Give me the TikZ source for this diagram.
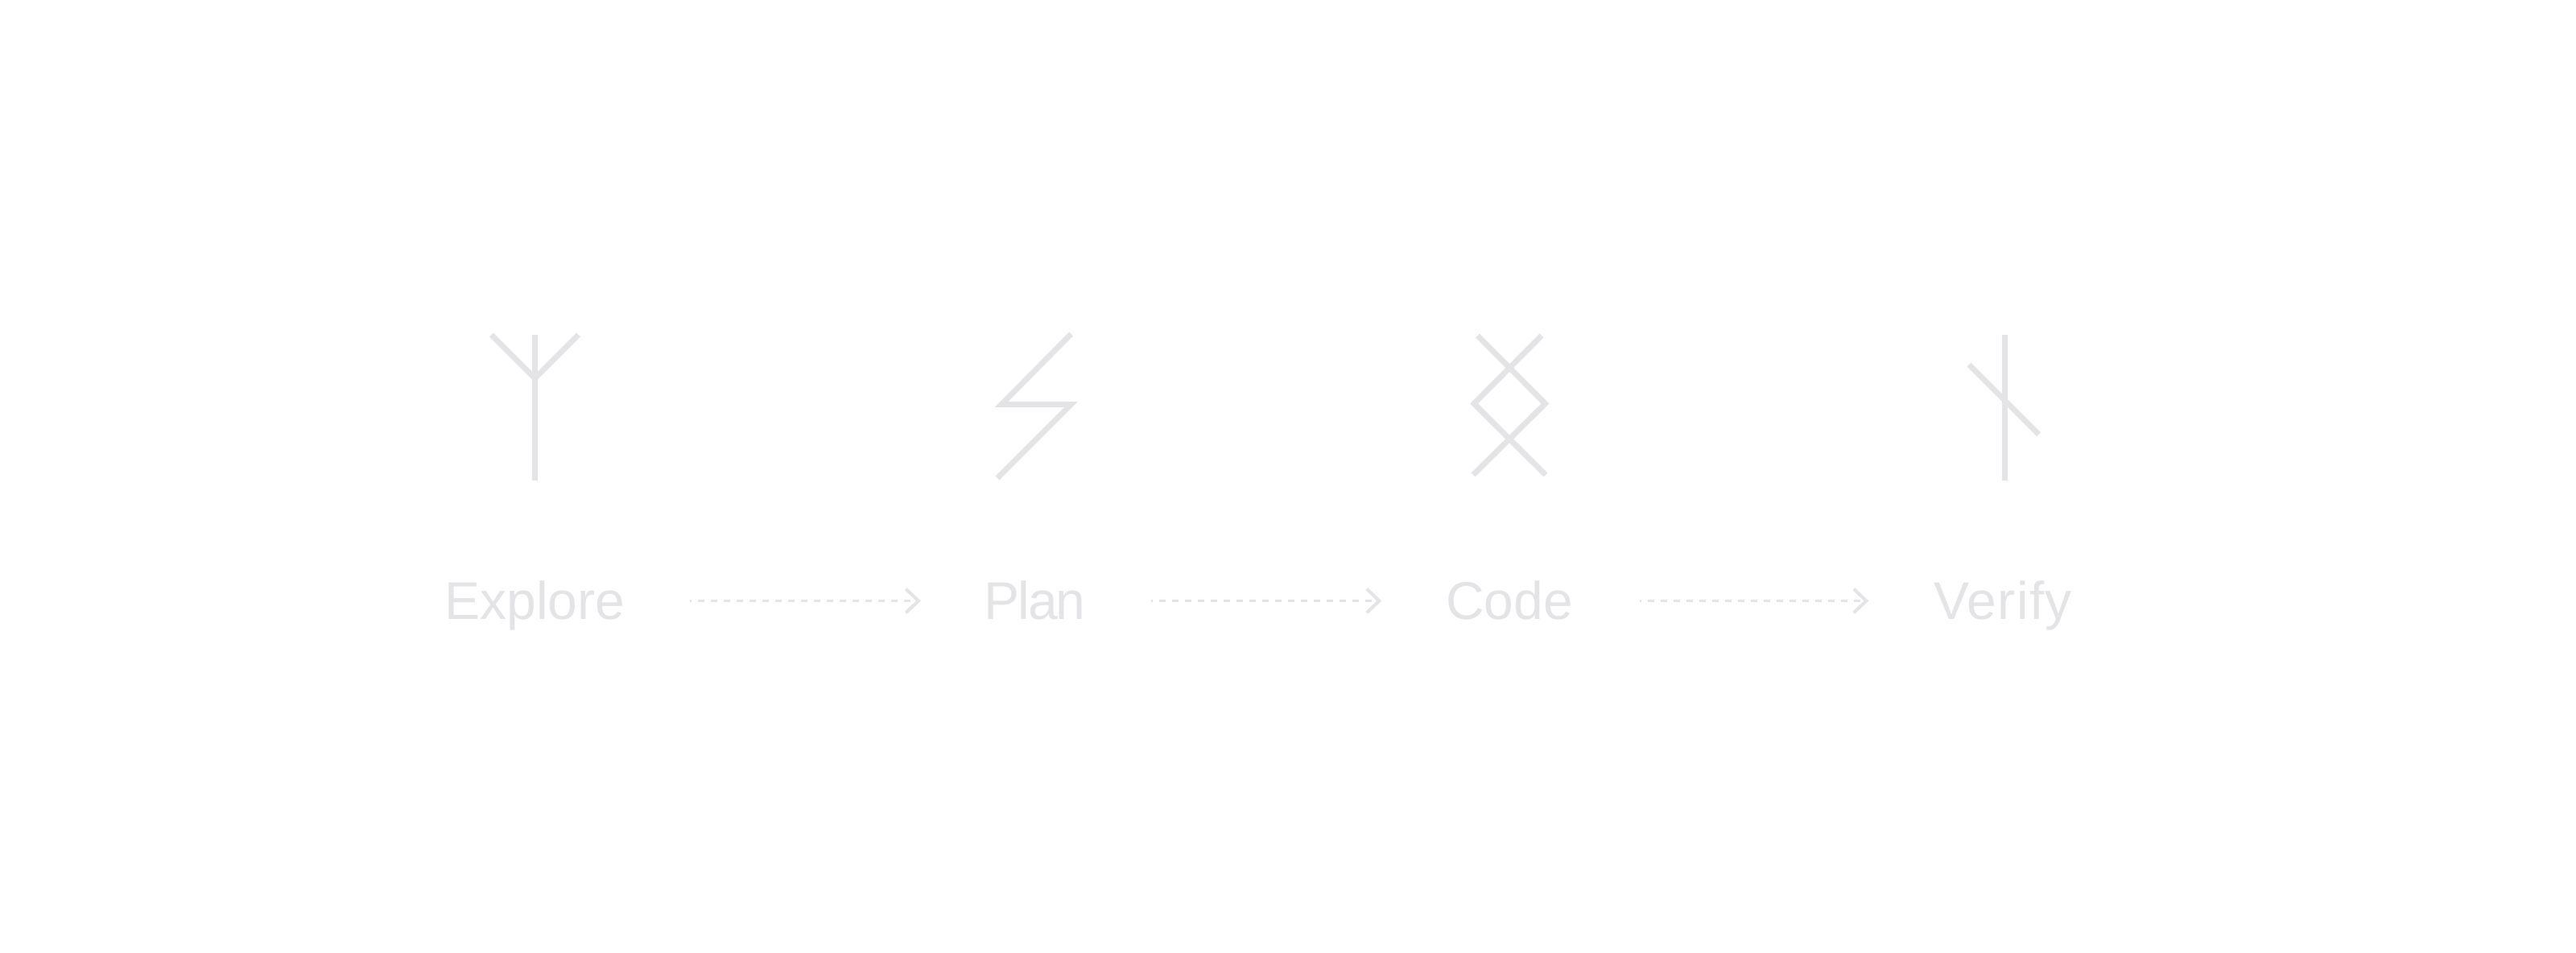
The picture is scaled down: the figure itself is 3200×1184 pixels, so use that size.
\documentclass[tikz,border=0pt]{standalone}
\usepackage{fontspec}
\setmainfont{Liberation Sans}
\usetikzlibrary{arrows.meta}
\definecolor{rune}{HTML}{E4E4E7}
\newcommand{\fitlabel}[3]{\makebox[#1][c]{\addfontfeature{LetterSpace=#2}#3}}
\tikzset{
  x=0.25pt,y=-0.25pt,
  runeline/.style={draw=rune,line width=1.75pt,line cap=butt,line join=miter,miter limit=10},
  label/.style={text=rune,font=\fontsize{16.5pt}{16.5pt}\selectfont,inner sep=0pt,outer xsep=21pt,outer ysep=0pt,text height=11.5pt,text depth=0pt},
  flow/.style={draw=rune,line width=0.85pt,dash pattern=on 2pt off 2pt,dash phase=1.4pt,shorten >=-0.7pt,
    -{Straight Barb[length=3.9pt,width=7.4pt,line width=1pt,sep=0pt]}}
}
\begin{document}
\begin{tikzpicture}
\useasboundingbox (0,0) rectangle (3200,1184);
\fill[white] (0,0) rectangle (3200,1184);
% runes
\coordinate (yj) at (664.5,470);
\draw[runeline] (664.5,416) -- (664.5,597);
\draw[runeline] (610.5,416) -- (yj) -- (718.5,416);
\draw[runeline] (1330.5,415) -- (1244,502.5) -- (1330.5,502.5) -- (1239,594);
\draw[runeline] (1835.5,417) -- (1919.5,501.5) -- (1830,590);
\draw[runeline] (1915,417) -- (1831,501.5) -- (1920,590);
\draw[runeline] (2490,416) -- (2490,597);
\draw[runeline] (2446,453) -- (2532.5,539.5);
% labels
\node[label] (explore) at (664.5,746.5) {\fitlabel{54.25pt}{0}{Explore}};
\node[label] (plan) at (1285.5,746.5) {\fitlabel{30.25pt}{-3}{Plan}};
\node[label] (code) at (1875,746.5) {\fitlabel{38.75pt}{0}{Code}};
\node[label] (verify) at (2488,746.5) {\fitlabel{42.75pt}{2}{Verify}};
% connectors
\draw[flow] (explore) -- (plan);
\draw[flow] (plan) -- (code);
\draw[flow] (code) -- (verify);
\end{tikzpicture}
\end{document}
